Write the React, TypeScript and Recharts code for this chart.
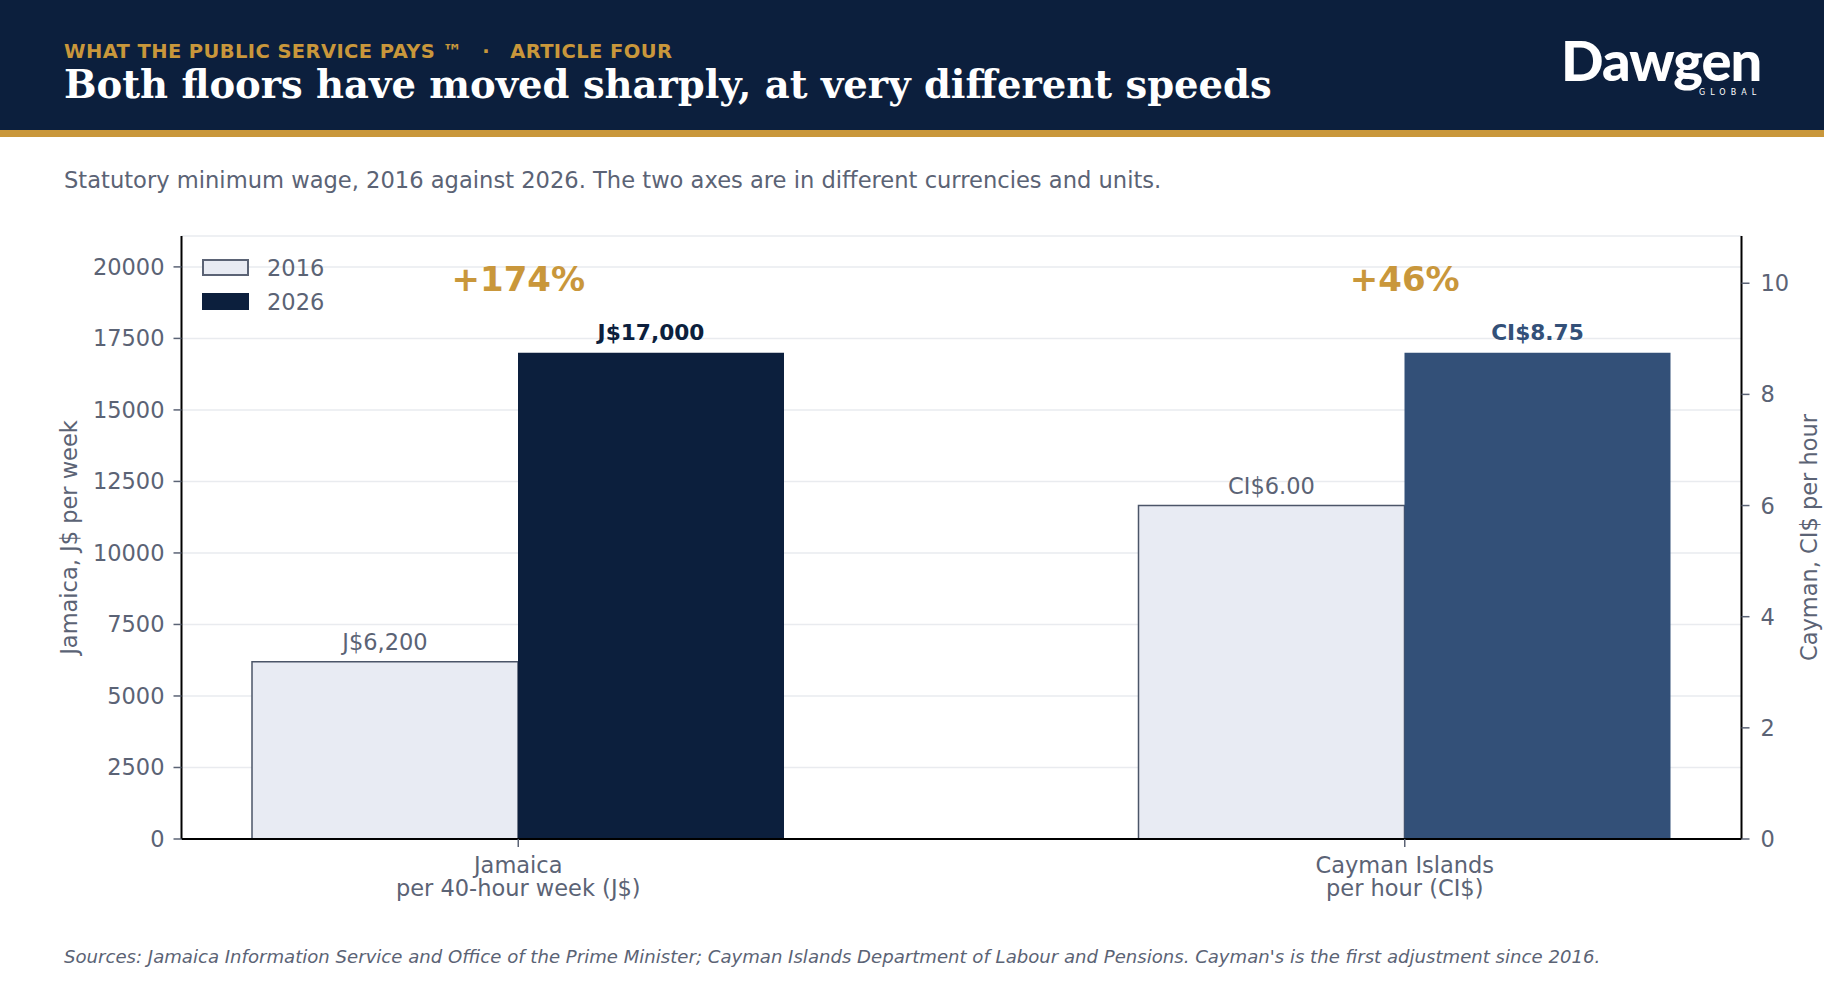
import { BarChart, Bar, XAxis, YAxis, CartesianGrid, LabelList, ReferenceDot, Label } from "recharts";

// categories and their unit lines (x axis)
const categories = ["Jamaica", "Cayman Islands"];
const unitLines = ["per 40-hour week (J$)", "per hour (CI$)"];
const years = ["2016", "2026"];

// minimum wage values
const jamaicaWage = [6200, 17000]; // J$ per 40-hour week
const caymanWage = [6.0, 8.75]; // CI$ per hour

const jamaicaLabels = ["J$6,200", "J$17,000"];
const caymanLabels = ["CI$6.00", "CI$8.75"];
const changeLabels = ["+174%", "+46%"];

const jamaicaTicks = [0, 2500, 5000, 7500, 10000, 12500, 15000, 17500, 20000];
const caymanTicks = [0, 2, 4, 6, 8, 10];

const NAVY = "#0c1f3d";
const BLUE = "#335078";
const LIGHT = "#e8ebf3";
const EDGE = "#4b5568";
const GOLD = "#c9973b";
const GREY = "#5b6375";
const FONT = '"DejaVu Sans", sans-serif';
const FS = 22.5;

// each country sits on its own axis, so it gets its own keys
const data = [
  { name: categories[0], j2016: jamaicaWage[0], j2026: jamaicaWage[1] },
  { name: categories[1], c2016: caymanWage[0], c2026: caymanWage[1] },
];

const valueLabel = (text: string, color: string, bold: boolean) => (p: any) => {
  if (p.value == null) return null;
  return (
    <text
      x={p.x + p.width / 2}
      y={p.y - 20}
      textAnchor="middle"
      dominantBaseline="central"
      fill={color}
      fontSize={bold ? 21.7 : FS}
      fontWeight={bold ? 700 : 400}
      fontFamily={FONT}
    >
      {text}
    </text>
  );
};

const changeLabel = (text: string) => (p: any) => {
  const vb = p.viewBox;
  return (
    <text
      x={vb.x + vb.width / 2}
      y={vb.y + vb.height / 2 - 1}
      textAnchor="middle"
      dominantBaseline="central"
      fill={GOLD}
      fontSize={34}
      fontWeight={700}
      fontFamily={FONT}
    >
      {text}
    </text>
  );
};

const axisTitle = (text: string, side: "left" | "right") => (p: any) => {
  const vb = p.viewBox;
  const x = side === "left" ? vb.x + 7 : vb.x + vb.width - 3;
  const y = vb.y + vb.height / 2;
  return (
    <text
      transform={`translate(${x}, ${y}) rotate(-90)`}
      textAnchor="middle"
      dominantBaseline="central"
      fill={GREY}
      fontSize={FS}
      fontFamily={FONT}
    >
      {text}
    </text>
  );
};

const CategoryTick = (p: any) => {
  const i = categories.indexOf(p.payload.value);
  return (
    <text x={p.x} y={p.y} textAnchor="middle" fill={GREY} fontSize={FS} fontFamily={FONT}>
      <tspan x={p.x} dy={26}>{categories[i]}</tspan>
      <tspan x={p.x} dy={22.5}>{unitLines[i]}</tspan>
    </text>
  );
};

export default function App() {
  return (
    <div
      style={{
        position: "absolute",
        left: 0,
        top: 0,
        width: 1824,
        height: 988,
        background: "#fff",
        overflow: "hidden",
        fontFamily: FONT,
      }}
    >
      {/* header band */}
      <div style={{ position: "absolute", left: 0, top: 0, width: 1824, height: 130, background: NAVY }} />
      <div style={{ position: "absolute", left: 0, top: 130, width: 1824, height: 7, background: GOLD }} />
      <div
        style={{
          position: "absolute",
          left: 64,
          top: 41,
          fontSize: 19.5,
          lineHeight: "22px",
          fontWeight: 700,
          color: GOLD,
          letterSpacing: 0.4,
          whiteSpace: "nowrap",
        }}
      >
        WHAT THE PUBLIC SERVICE PAYS ™<span style={{ margin: "0 20px" }}>·</span>ARTICLE FOUR
      </div>
      <div
        style={{
          position: "absolute",
          left: 64,
          top: 63,
          fontSize: 38.5,
          lineHeight: "44px",
          fontWeight: 700,
          color: "#fff",
          fontFamily: '"DejaVu Serif", serif',
          whiteSpace: "nowrap",
        }}
      >
        Both floors have moved sharply, at very different speeds
      </div>
      {/* logo */}
      <div
        style={{
          position: "absolute",
          left: 1561,
          top: 30,
          fontSize: 56,
          lineHeight: "60px",
          fontWeight: 900,
          color: "#fff",
          fontFamily: "Lato, sans-serif",
          letterSpacing: -1,
          whiteSpace: "nowrap",
        }}
      >
        Dawgen
      </div>
      <div
        style={{
          position: "absolute",
          left: 1699,
          top: 88,
          fontSize: 8,
          lineHeight: "10px",
          color: "#fff",
          letterSpacing: 5,
          whiteSpace: "nowrap",
        }}
      >
        GLOBAL
      </div>

      <div
        style={{
          position: "absolute",
          left: 64,
          top: 167,
          fontSize: 22.6,
          lineHeight: "26px",
          color: GREY,
          whiteSpace: "nowrap",
        }}
      >
        Statutory minimum wage, 2016 against 2026. The two axes are in different currencies and units.
      </div>

      <div style={{ position: "absolute", left: 0, top: 0 }}>
        <BarChart
          width={1824}
          height={988}
          data={data}
          margin={{ top: 236, right: 12.5, bottom: 69, left: 61.5 }}
          barGap={0}
          barSize={266}
        >
          <CartesianGrid yAxisId="left" vertical={false} stroke="#e9ebef" strokeWidth={1.5} />
          <XAxis
            dataKey="name"
            height={80}
            padding={{ left: -106.5, right: -106.5 }}
            interval={0}
            tick={<CategoryTick />}
            tickSize={8}
            tickMargin={0}
            tickLine={{ stroke: GREY, strokeWidth: 1.5 }}
            axisLine={{ stroke: "#000", strokeWidth: 2 }}
          />
          <YAxis
            yAxisId="left"
            width={120}
            domain={[0, jamaicaWage[1] * 1.24]}
            ticks={jamaicaTicks}
            tickSize={8}
            tickMargin={9}
            tick={{ fill: GREY, fontSize: FS, fontFamily: FONT }}
            tickLine={{ stroke: GREY, strokeWidth: 1.5 }}
            axisLine={{ stroke: "#000", strokeWidth: 2 }}
            label={<Label content={axisTitle("Jamaica, J$ per week", "left")} />}
          />
          <YAxis
            yAxisId="right"
            orientation="right"
            width={70}
            domain={[0, caymanWage[1] * 1.24]}
            ticks={caymanTicks}
            tickSize={8}
            tickMargin={11}
            tick={{ fill: GREY, fontSize: FS, fontFamily: FONT }}
            tickLine={{ stroke: GREY, strokeWidth: 1.5 }}
            axisLine={{ stroke: "#000", strokeWidth: 2 }}
            label={<Label content={axisTitle("Cayman, CI$ per hour", "right")} />}
          />
          <Bar yAxisId="left" dataKey="j2016" stackId="y2016" fill={LIGHT} stroke={EDGE} strokeWidth={1.5} isAnimationActive={false}>
            <LabelList dataKey="j2016" content={valueLabel(jamaicaLabels[0], GREY, false)} />
          </Bar>
          <Bar yAxisId="left" dataKey="j2026" stackId="y2026" fill={NAVY} isAnimationActive={false}>
            <LabelList dataKey="j2026" content={valueLabel(jamaicaLabels[1], NAVY, true)} />
          </Bar>
          <Bar yAxisId="right" dataKey="c2016" stackId="y2016" fill={LIGHT} stroke={EDGE} strokeWidth={1.5} isAnimationActive={false}>
            <LabelList dataKey="c2016" content={valueLabel(caymanLabels[0], GREY, false)} />
          </Bar>
          <Bar yAxisId="right" dataKey="c2026" stackId="y2026" fill={BLUE} isAnimationActive={false}>
            <LabelList dataKey="c2026" content={valueLabel(caymanLabels[1], BLUE, true)} />
          </Bar>
          <ReferenceDot
            yAxisId="left"
            x={categories[0]}
            y={jamaicaWage[1] * 1.15}
            r={0}
            fill="none"
            stroke="none"
            label={<Label content={changeLabel(changeLabels[0])} />}
          />
          <ReferenceDot
            yAxisId="right"
            x={categories[1]}
            y={caymanWage[1] * 1.15}
            r={0}
            fill="none"
            stroke="none"
            label={<Label content={changeLabel(changeLabels[1])} />}
          />
        </BarChart>
      </div>

      {/* legend */}
      {years.map((yr, i) => (
        <div key={yr}>
          <div
            style={{
              position: "absolute",
              left: 202,
              top: 259 + i * 34,
              width: 47,
              height: 17,
              boxSizing: "border-box",
              background: i === 0 ? LIGHT : NAVY,
              border: i === 0 ? `2px solid ${GREY}` : "none",
            }}
          />
          <div
            style={{
              position: "absolute",
              left: 267,
              top: 255 + i * 34,
              fontSize: FS,
              lineHeight: "26px",
              color: GREY,
            }}
          >
            {yr}
          </div>
        </div>
      ))}

      <div
        style={{
          position: "absolute",
          left: 64,
          top: 947,
          fontSize: 18.1,
          lineHeight: "20px",
          fontStyle: "italic",
          color: GREY,
          whiteSpace: "nowrap",
        }}
      >
        Sources: Jamaica Information Service and Office of the Prime Minister; Cayman Islands Department of Labour and
        Pensions. Cayman's is the first adjustment since 2016.
      </div>
    </div>
  );
}
